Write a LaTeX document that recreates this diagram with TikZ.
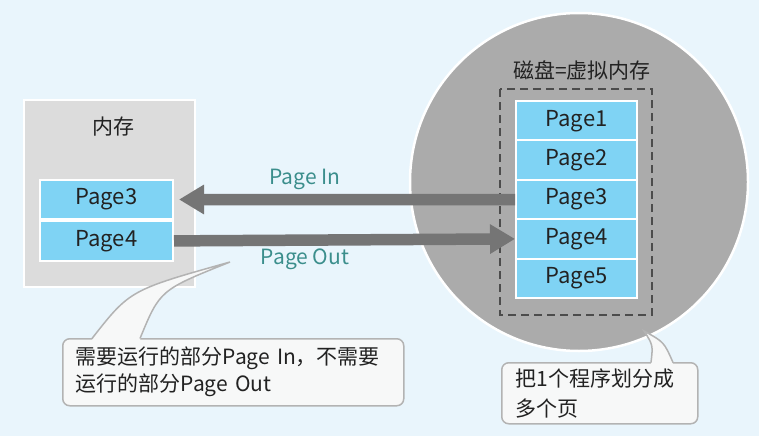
\documentclass[tikz,border=0pt]{standalone}
\usepackage{fontspec}
\setmainfont{Noto Sans CJK SC}
\usetikzlibrary{arrows.meta,positioning}
\definecolor{bgblue}{HTML}{E9F5FC}
\definecolor{memgray}{HTML}{DCDCDC}
\definecolor{diskgray}{HTML}{ABABAB}
\definecolor{pageblue}{HTML}{7FD3F4}
\definecolor{arrowgray}{HTML}{757575}
\definecolor{labelteal}{HTML}{3B8E8C}
\definecolor{textdark}{HTML}{222222}
\definecolor{notefill}{HTML}{F7F8F8}
\definecolor{noteline}{HTML}{B3B3B3}
\tikzset{
  pagebox/.style={draw=white,line width=2pt,fill=pageblue,minimum width=121pt,
    minimum height=39.4pt,inner sep=0pt,text=textdark,font=\fontsize{22}{26}\selectfont},
  bigarrow/.style={arrowgray,line width=11.5pt,-{Triangle[length=25pt,width=28pt]}},
  arrowlabel/.style={text=labelteal,font=\fontsize{21}{25}\selectfont},
  notebox/.style={fill=notefill,draw=noteline,line width=1.5pt,rounded corners=7pt,
    anchor=north west,align=left,inner xsep=13pt,text=textdark,
    font=\fontsize{21}{27}\selectfont}
}
\begin{document}
\begin{tikzpicture}[x=1pt,y=-1pt]
  \fill[bgblue] (0,0) rectangle (759,436);
  \useasboundingbox (0,0) rectangle (759,436);
  % memory
  \draw[fill=memgray,draw=white,line width=2pt] (24,100) rectangle (195,287);
  \node[text=textdark,font=\fontsize{21}{25}\selectfont] (memtitle) at (113,127) {内存};
  \node[pagebox,minimum width=133pt] (m3) at (106.5,199.5) {Page3};
  \node[pagebox,minimum width=133pt,below=0pt of m3] (m4) {Page4};
  % disk
  \coordinate (righttip) at (644,331);
  \draw[fill=diskgray,draw=white,line width=2.5pt] (579,182) circle (169);
  \node[text=textdark,font=\fontsize{21}{25}\selectfont] (disktitle) at (582,70) {磁盘=虚拟内存};
  \draw[dashed,draw=black!70,line width=2.6pt,dash pattern=on 8pt off 5pt] (500,89) rectangle (652,315);
  \foreach \i in {1,...,5}
    \node[pagebox] (d\i) at (576.5,101+39.4*\i-19.7) {Page\i};
  % page in / page out
  \draw[bigarrow,shorten >=5pt] (d3.west) -- (m3.east);
  \draw[bigarrow] (m4.east) -- (d4.west);
  \node[arrowlabel] (inlabel) at (305,179) {Page In};
  \node[arrowlabel] (outlabel) at (305,259) {Page Out};
  % notes
  \node[notebox,minimum width=341pt,minimum height=67pt,text width=315pt] (leftnote) at (62,338)
    {需要运行的部分Page In，不需要\\运行的部分Page Out};
  \coordinate (lefttip) at (230,262);
  \fill[notefill] (92,340) .. controls (130,290) .. (lefttip) .. controls (160,290) .. (140,340) -- cycle;
  \draw[noteline,line width=1.5pt] (92,338.5) .. controls (130,290) .. (lefttip) .. controls (160,290) .. (140,338.5);
  \node[notebox,minimum width=194pt,minimum height=61pt,text width=168pt,inner xsep=14pt,
    font=\fontsize{21}{30}\selectfont] (rightnote) at (501,362)
    {把1个程序划分成\\多个页};
  \fill[notefill] (651,364) .. controls (653,345) .. (righttip) .. controls (664,342) .. (673,364) -- cycle;
  \draw[noteline,line width=1.5pt] (651,362.5) .. controls (653,345) .. (righttip) .. controls (664,342) .. (673,362.5);
\end{tikzpicture}
\end{document}
